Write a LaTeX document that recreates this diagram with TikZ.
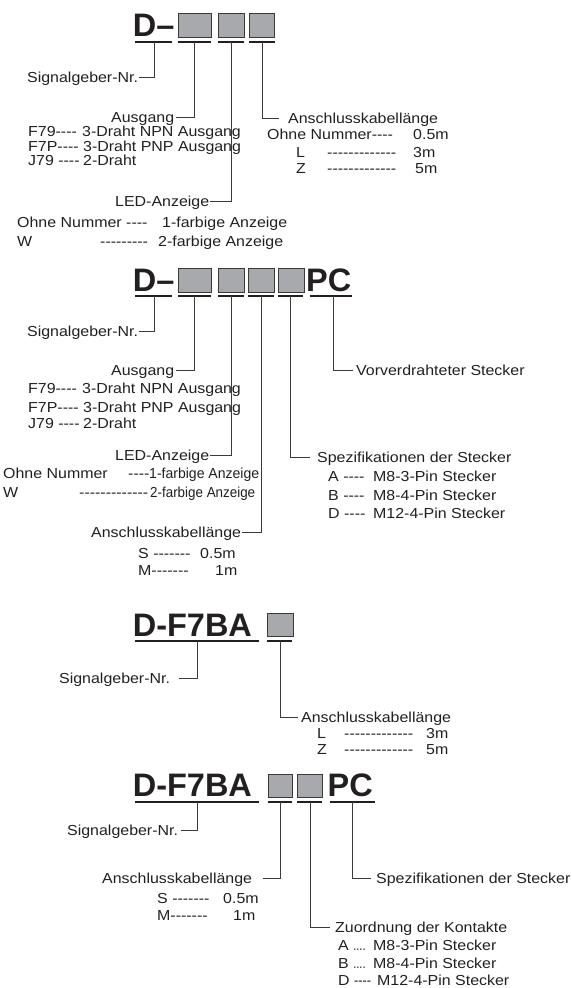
\documentclass[tikz,border=0pt]{standalone}
\usepackage{fontspec}
\newfontfamily\labfont{Liberation Sans}[FakeStretch=1.1]
\newfontfamily\codefont{Liberation Sans}
\definecolor{ink}{HTML}{231F20}
\definecolor{linegray}{HTML}{3A3A3A}
\definecolor{slotgray}{HTML}{A7A9AC}

\begin{document}
\begin{tikzpicture}[x=1pt, y=-1pt,
    lab/.style={anchor=west, inner sep=0pt, text height=10.4pt, text depth=0pt, text=ink, font=\labfont\fontsize{14.5}{15}\selectfont},
    big/.style={anchor=south west, inner sep=0pt, text height=23.3pt, text depth=0pt, text=ink, font=\codefont\bfseries\fontsize{32.5}{34}\selectfont},
    slot/.style={rectangle, draw=linegray, line width=0.9pt, fill=slotgray, inner sep=0pt, minimum height=24pt},
    uline/.style={draw=ink, line width=1.4pt},
    lead/.style={draw=linegray, line width=0.8pt}
]
\useasboundingbox (0,0) rectangle (571,988);

% Code 1: D- with three slots
\node[big] (code1) at (132.6,36.5) {D–};
\node[slot, minimum width=33pt] (s11) at (194.5,25) {};
\node[slot, minimum width=26pt] (s12) at (231,25) {};
\node[slot, minimum width=25pt] (s13) at (261.5,25) {};

\draw[uline] (135,42) -- (172,42);
\draw[uline] (178,42) -- (211,42);
\draw[uline] (218,42) -- (244,42);
\draw[uline] (249,42) -- (275,42);
\coordinate (u11) at (154,42);
\coordinate (u12) at (194,42);
\coordinate (u13) at (231,42);
\coordinate (u14) at (262,42);

\node[lab] (sig1) at (27,77) {Signalgeber-Nr.};
\node[lab] (aus1) at (111,117) {Ausgang};
\node[lab] (led1) at (115,201) {LED-Anzeige};
\node[lab] (kab1) at (288,118) {Anschlusskabellänge};

\draw[lead, shorten >=1pt] (u11) |- (sig1.east);
\draw[lead, shorten >=2pt] (u12) |- (aus1.east);
\draw[lead, shorten >=1pt] (u13) |- (led1.east);
\draw[lead, shorten >=9pt] (u14) |- (kab1.west);

% Ausgang list
\node[lab] (a11) at (28,131) {F79----};
\node[lab] (a11t) at (82,131) {3-Draht NPN Ausgang};
\node[lab] (a12) at (28,146) {F7P----};
\node[lab] (a12t) at (83,146) {3-Draht PNP Ausgang};
\node[lab] (a13) at (28,160) {J79 ----};
\node[lab] (a13t) at (83,160) {2-Draht};

% Kabel list
\node[lab] (k11) at (267,134) {Ohne Nummer----};
\node[lab] (k11t) at (413,134) {0.5m};
\node[lab] (k12) at (296,152) {L};
\node[lab] (k12d) at (327,152) {-------------};
\node[lab] (k12t) at (413,152) {3m};
\node[lab] (k13) at (296,168) {Z};
\node[lab] (k13d) at (327,168) {-------------};
\node[lab] (k13t) at (415,168) {5m};

% LED list
\node[lab] (l11) at (17,222) {Ohne Nummer ----};
\node[lab] (l11t) at (162,222) {1-farbige Anzeige};
\node[lab] (l12) at (17,241) {W};
\node[lab] (l12d) at (100,241) {---------};
\node[lab] (l12t) at (158,241) {2-farbige Anzeige};

% Code 2: D- with four slots and PC
\node[big] (code2) at (132.6,292) {D–};
\node[slot, minimum width=33pt] (s21) at (194.5,280) {};
\node[slot, minimum width=26pt] (s22) at (231,280) {};
\node[slot, minimum width=26pt] (s23) at (261,280) {};
\node[slot, minimum width=26pt] (s24) at (291,280) {};
\node[big] (pc2) at (306,292) {PC};

\draw[uline] (135,296) -- (172,296);
\draw[uline] (178,296) -- (211,296);
\draw[uline] (218,296) -- (244,296);
\draw[uline] (248,296) -- (274,296);
\draw[uline] (278,296) -- (303,296);
\draw[uline] (310,296) -- (352,296);
\coordinate (u21) at (154,296);
\coordinate (u22) at (194,296);
\coordinate (u23) at (231,296);
\coordinate (u24) at (261,296);
\coordinate (u25) at (290,296);
\coordinate (u26) at (333,296);

\node[lab] (sig2) at (27,331) {Signalgeber-Nr.};
\node[lab] (aus2) at (111,370) {Ausgang};
\node[lab] (led2) at (115,455) {LED-Anzeige};
\node[lab] (kab2) at (91,532) {Anschlusskabellänge};
\node[lab] (spez2) at (317,457) {Spezifikationen der Stecker};
\node[lab] (vor2) at (356,370) {Vorverdrahteter Stecker};

\draw[lead, shorten >=1pt] (u21) |- (sig2.east);
\draw[lead, shorten >=2pt] (u22) |- (aus2.east);
\draw[lead, shorten >=1pt] (u23) |- (led2.east);
\draw[lead, shorten >=1pt] (u24) |- (kab2.east);
\draw[lead, shorten >=7pt] (u25) |- (spez2.west);
\draw[lead, shorten >=3pt] (u26) |- (vor2.west);

% Ausgang list
\node[lab] (a21) at (28,388) {F79----};
\node[lab] (a21t) at (82,388) {3-Draht NPN Ausgang};
\node[lab] (a22) at (28,407) {F7P----};
\node[lab] (a22t) at (83,407) {3-Draht PNP Ausgang};
\node[lab] (a23) at (28,423) {J79 ----};
\node[lab] (a23t) at (83,423) {2-Draht};

% LED list
\node[lab] (l21) at (3,473) {Ohne Nummer};
\node[lab] (l21d) at (128,473) {----};
\node[lab] (l21t) at (149,473) {\scalebox{0.88}[1]{1-farbige Anzeige}};
\node[lab] (l22) at (3,492) {W};
\node[lab] (l22d) at (79,492) {-------------};
\node[lab] (l22t) at (150,492) {\scalebox{0.84}[1]{2-farbige Anzeige}};

% Stecker list
\node[lab] (p21) at (328,476) {A ----};
\node[lab] (p21t) at (373,476) {M8-3-Pin Stecker};
\node[lab] (p22) at (328,495) {B ----};
\node[lab] (p22t) at (373,495) {M8-4-Pin Stecker};
\node[lab] (p23) at (328,513) {D ----};
\node[lab] (p23t) at (373,513) {M12-4-Pin Stecker};

% Kabel list
\node[lab] (k21) at (138,553) {S -------};
\node[lab] (k21t) at (200,553) {0.5m};
\node[lab] (k22) at (138,570) {M-------};
\node[lab] (k22t) at (215,570) {1m};

% Code 3: D-F7BA with one slot
\node[big] (code3) at (132.6,636.5) {D-F7BA};
\node[slot, minimum width=26pt, minimum height=23pt] (s31) at (280,624.5) {};

\draw[uline] (135,641) -- (259,641);
\draw[uline] (267,641) -- (292,641);
\coordinate (u31) at (197,641);
\coordinate (u32) at (280,641);

\node[lab] (sig3) at (59,678) {Signalgeber-Nr.};
\node[lab] (kab3) at (301,717) {Anschlusskabellänge};

\draw[lead, shorten >=9pt] (u31) |- (sig3.east);
\draw[lead, shorten >=3pt] (u32) |- (kab3.west);

\node[lab] (k31) at (317,733) {L};
\node[lab] (k31d) at (344,733) {-------------};
\node[lab] (k31t) at (426,733) {3m};
\node[lab] (k32) at (317,749) {Z};
\node[lab] (k32d) at (344,749) {-------------};
\node[lab] (k32t) at (426,749) {5m};

% Code 4: D-F7BA with two slots and PC
\node[big] (code4) at (132.6,797) {D-F7BA};
\node[slot, minimum width=24pt, minimum height=23pt] (s41) at (280,785.5) {};
\node[slot, minimum width=25pt, minimum height=23pt] (s42) at (309.5,785.5) {};
\node[big] (pc4) at (327.5,797) {PC};

\draw[uline] (135,802) -- (259,802);
\draw[uline] (268,802) -- (292,802);
\draw[uline] (297,802) -- (322,802);
\draw[uline] (330,802) -- (375,802);
\coordinate (u41) at (197,802);
\coordinate (u42) at (280,802);
\coordinate (u43) at (310,802);
\coordinate (u44) at (352,802);

\node[lab] (sig4) at (67,830) {Signalgeber-Nr.};
\node[lab] (kab4) at (102,878) {Anschlusskabellänge};
\node[lab] (zu4) at (335,927) {Zuordnung der Kontakte};
\node[lab] (spez4) at (376,878) {Spezifikationen der Stecker};

\draw[lead, shorten >=3pt] (u41) |- (sig4.east);
\draw[lead, shorten >=11pt] (u42) |- (kab4.east);
\draw[lead, shorten >=5pt] (u43) |- (zu4.west);
\draw[lead, shorten >=5pt] (u44) |- (spez4.west);

% Kabel list
\node[lab] (k41) at (157,898) {S -------};
\node[lab] (k41t) at (223,898) {0.5m};
\node[lab] (k42) at (157,915) {M-------};
\node[lab] (k42t) at (233,915) {1m};

% Kontakte list
\node[lab] (z41) at (338,945) {A \scalebox{0.7}[1]{....}};
\node[lab] (z41t) at (373,945) {M8-3-Pin Stecker};
\node[lab] (z42) at (338,963) {B \scalebox{0.7}[1]{....}};
\node[lab] (z42t) at (373,963) {M8-4-Pin Stecker};
\node[lab] (z43) at (338,980) {D \scalebox{0.8}[1]{----}};
\node[lab] (z43t) at (377,980) {M12-4-Pin Stecker};

\end{tikzpicture}
\end{document}
